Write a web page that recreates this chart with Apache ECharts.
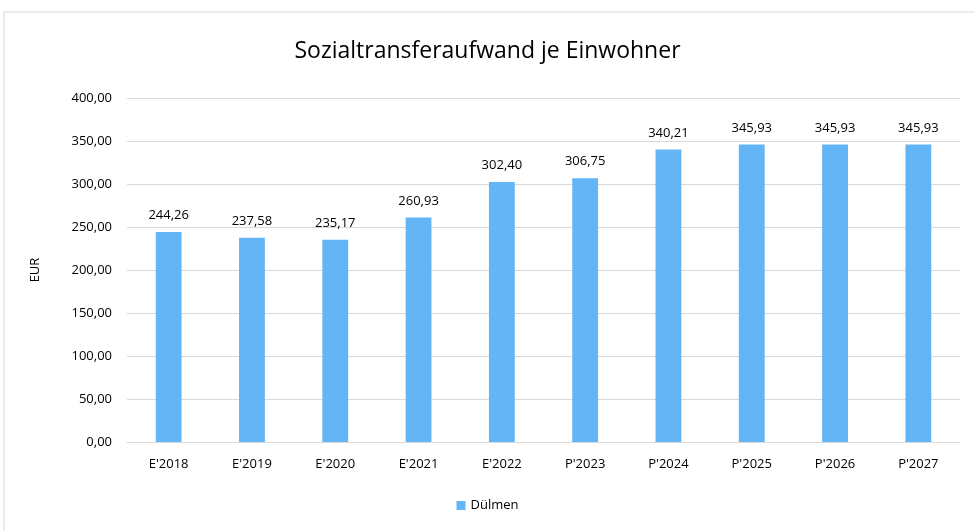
<!DOCTYPE html>
<html>
<head>
<meta charset="utf-8">
<script src="https://cdn.jsdelivr.net/npm/echarts@6/dist/echarts.min.js"></script>
<style>
  html, body { margin: 0; padding: 0; background: #fff; }
  #chart { width: 975px; height: 531px; }
</style>
</head>
<body>
<div id="chart"></div>
<script>
// Kategorien und Werte (EUR je Einwohner)
const categories = ["E'2018", "E'2019", "E'2020", "E'2021", "E'2022", "P'2023", "P'2024", "P'2025", "P'2026", "P'2027"];
const duelmen = [244.26, 237.58, 235.17, 260.93, 302.40, 306.75, 340.21, 345.93, 345.93, 345.93];
const yTicks = { min: 0, max: 400, interval: 50 };

const fmt = v => v.toFixed(2).replace('.', ',');
const font = "'Open Sans', 'Noto Sans', sans-serif";

const chart = echarts.init(document.getElementById('chart'));
chart.setOption({
  animation: false,
  textStyle: { fontFamily: font },
  graphic: [{
    type: 'rect',
    shape: { x: 4, y: 12, width: 1000, height: 600 },
    style: { fill: 'none', stroke: '#d9d9d9', lineWidth: 1 },
    silent: true
  }],
  title: {
    text: 'Sozialtransferaufwand je Einwohner',
    left: 'center',
    top: 35,
    textStyle: { fontSize: 23, fontWeight: 'normal', color: '#000', fontFamily: font }
  },
  legend: {
    data: ['Dülmen'],
    bottom: 14,
    left: 'center',
    itemWidth: 9,
    itemHeight: 9,
    itemGap: 5,
    icon: 'rect',
    textStyle: { fontSize: 13, color: '#000' }
  },
  grid: { left: 127, right: 15, top: 98, bottom: 89 },
  xAxis: {
    type: 'category',
    data: categories,
    axisTick: { show: false },
    axisLine: { lineStyle: { color: '#d9d9d9', width: 1 } },
    axisLabel: { color: '#000', fontSize: 13, margin: 16 }
  },
  yAxis: {
    type: 'value',
    min: yTicks.min,
    max: yTicks.max,
    interval: yTicks.interval,
    name: 'EUR',
    nameLocation: 'middle',
    nameRotate: 90,
    nameGap: 85,
    nameTextStyle: { color: '#000', fontSize: 13 },
    axisLine: { show: false },
    axisTick: { show: false },
    axisLabel: { color: '#000', fontSize: 13, margin: 15, formatter: fmt },
    splitLine: { lineStyle: { color: '#d9d9d9', width: 1 } }
  },
  series: [{
    name: 'Dülmen',
    type: 'bar',
    data: duelmen,
    barWidth: '31%',
    itemStyle: { color: '#64b5f6' },
    label: {
      show: true,
      position: 'top',
      distance: 10,
      color: '#000',
      fontSize: 13,
      formatter: p => fmt(p.value)
    }
  }]
});
</script>
</body>
</html>
